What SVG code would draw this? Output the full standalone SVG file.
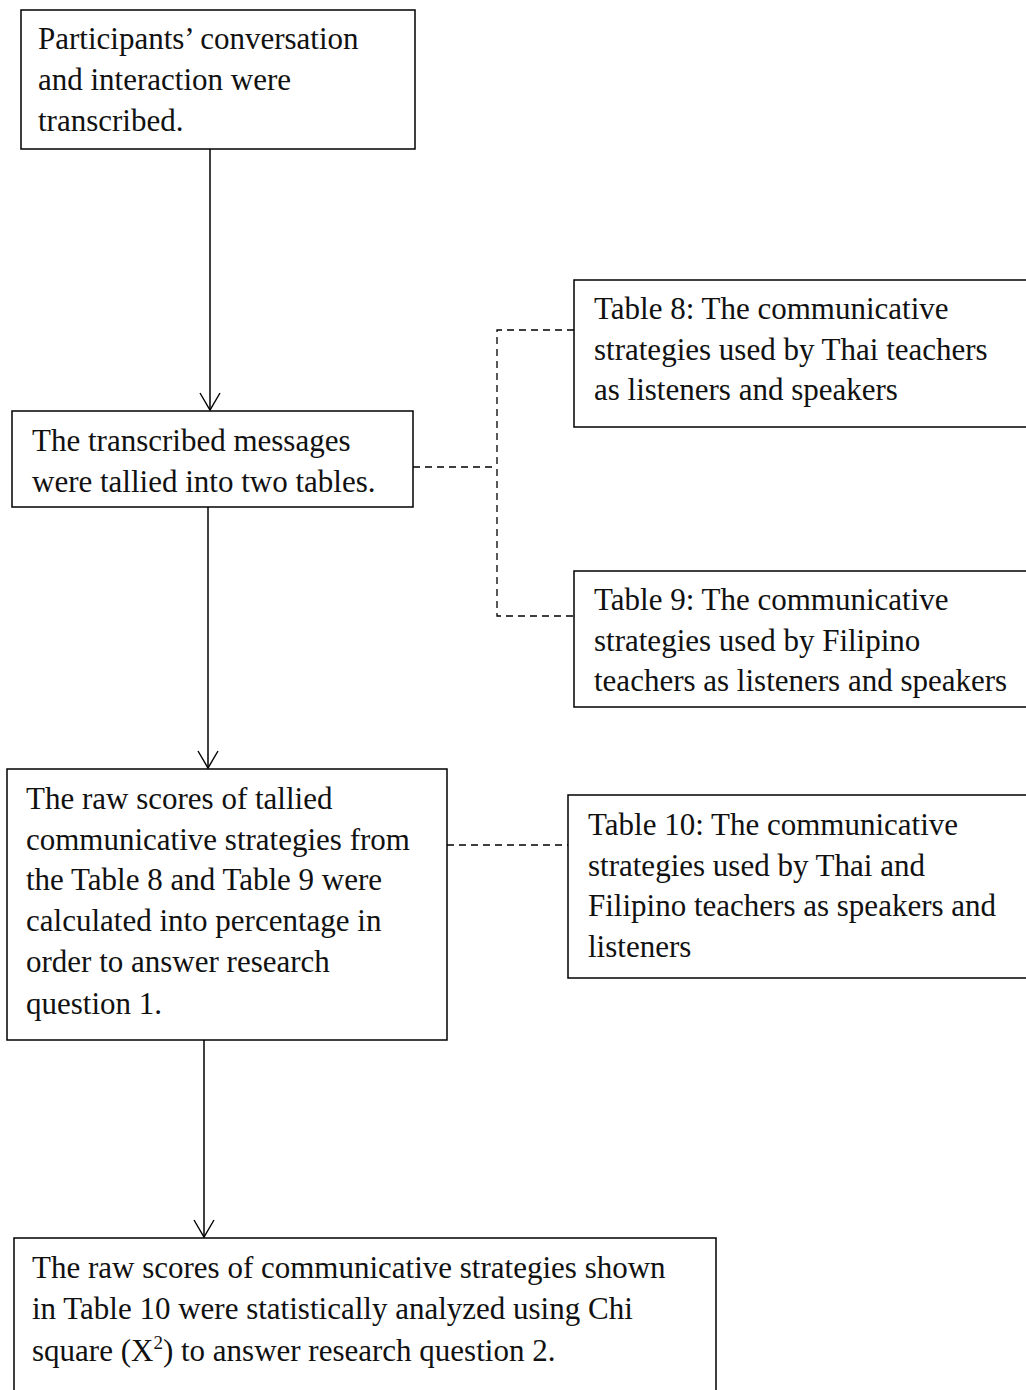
<svg xmlns="http://www.w3.org/2000/svg" width="1026" height="1390" viewBox="0 0 1026 1390">
<defs>
<style>
.box{fill:#fff;stroke:#000;stroke-width:1.5}
.t{font-family:"Liberation Serif","Times New Roman",serif;font-size:31px;fill:#111}
.c{stroke:#000;stroke-width:1.5;fill:none}
.d{stroke:#000;stroke-width:1.3;fill:none;stroke-dasharray:7,5}
</style>
<marker id="ah" markerWidth="20" markerHeight="22" refX="18" refY="11" orient="auto" markerUnits="userSpaceOnUse" viewBox="0 0 20 22">
<path d="M1,1 L18,11 L1,21" fill="none" stroke="#000" stroke-width="1.4"/>
</marker>
</defs>
<rect width="1026" height="1390" fill="#fff"/>
<g id="connectors">
<line class="c" x1="210" y1="149" x2="210" y2="410" marker-end="url(#ah)"/>
<line class="c" x1="208" y1="507" x2="208" y2="768" marker-end="url(#ah)"/>
<line class="c" x1="204" y1="1040" x2="204" y2="1237" marker-end="url(#ah)"/>
<path class="d" d="M413,467 H497"/>
<path class="d" d="M574,330 H497 V616 H574"/>
<path class="d" d="M447,845 H568"/>
</g>
<g id="n1">
<rect class="box" x="21" y="10" width="394" height="139"/>
<text class="t" x="38" y="49">Participants’ conversation</text>
<text class="t" x="38" y="90">and interaction were</text>
<text class="t" x="38" y="131">transcribed.</text>
</g>
<g id="n2">
<rect class="box" x="12" y="411" width="401" height="96"/>
<text class="t" x="32" y="451">The transcribed messages</text>
<text class="t" x="32" y="492">were tallied into two tables.</text>
</g>
<g id="n3">
<rect class="box" x="574" y="280" width="460" height="147"/>
<text class="t" x="594" y="319">Table 8: The communicative</text>
<text class="t" x="594" y="360">strategies used by Thai teachers</text>
<text class="t" x="594" y="400">as listeners and speakers</text>
</g>
<g id="n4">
<rect class="box" x="574" y="571" width="460" height="136"/>
<text class="t" x="594" y="610">Table 9: The communicative</text>
<text class="t" x="594" y="651">strategies used by Filipino</text>
<text class="t" x="594" y="691">teachers as listeners and speakers</text>
</g>
<g id="n5">
<rect class="box" x="7" y="769" width="440" height="271"/>
<text class="t" x="26" y="809">The raw scores of tallied</text>
<text class="t" x="26" y="850">communicative strategies from</text>
<text class="t" x="26" y="890">the Table 8 and Table 9 were</text>
<text class="t" x="26" y="931">calculated into percentage in</text>
<text class="t" x="26" y="972">order to answer research</text>
<text class="t" x="26" y="1014">question 1.</text>
</g>
<g id="n6">
<rect class="box" x="568" y="795" width="466" height="183"/>
<text class="t" x="588" y="835">Table 10: The communicative</text>
<text class="t" x="588" y="876">strategies used by Thai and</text>
<text class="t" x="588" y="916">Filipino teachers as speakers and</text>
<text class="t" x="588" y="957">listeners</text>
</g>
<g id="n7">
<rect class="box" x="14" y="1238" width="702" height="160"/>
<text class="t" x="32" y="1278">The raw scores of communicative strategies shown</text>
<text class="t" x="32" y="1319">in Table 10 were statistically analyzed using Chi</text>
<text class="t" x="32" y="1361">square (X<tspan font-size="19" dy="-12">2</tspan><tspan dy="12">) to answer research question 2.</tspan></text>
</g>
</svg>
